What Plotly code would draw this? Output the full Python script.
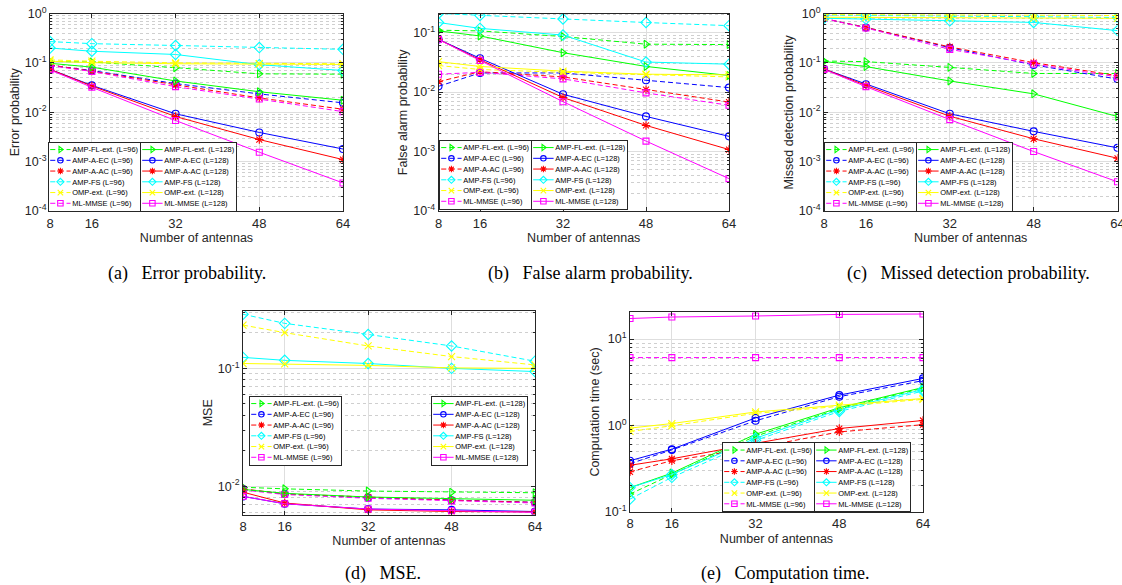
import json
import plotly.graph_objects as go

W, H = 1122, 585

# ---------------- data ----------------
ANTENNAS = [8, 16, 32, 48, 64]
X_TICKS = [8, 16, 32, 48, 64]

METHODS = ["AMP-FL-ext.", "AMP-A-EC", "AMP-A-AC", "AMP-FS", "OMP-ext.", "ML-MMSE"]
L_VALUES = [96, 128]

# (a) Error probability
ERR_FL_96 = [0.107, 0.104, 0.080, 0.060, 0.059]
ERR_EC_96 = [0.089, 0.070, 0.038, 0.0235, 0.0155]
ERR_AC_96 = [0.091, 0.068, 0.036, 0.0195, 0.0115]
ERR_FS_96 = [0.27, 0.245, 0.225, 0.204, 0.188]
ERR_OMP_96 = [0.115, 0.108, 0.100, 0.097, 0.096]
ERR_ML_96 = [0.088, 0.067, 0.033, 0.0185, 0.0103]
ERR_FL_128 = [0.098, 0.082, 0.043, 0.026, 0.0175]
ERR_EC_128 = [0.074, 0.035, 0.0093, 0.0039, 0.0018]
ERR_AC_128 = [0.074, 0.034, 0.0082, 0.0028, 0.0011]
ERR_FS_128 = [0.20, 0.172, 0.148, 0.092, 0.070]
ERR_OMP_128 = [0.108, 0.101, 0.096, 0.094, 0.093]
ERR_ML_128 = [0.072, 0.032, 0.0068, 0.00155, 0.00037]

# (b) False alarm probability
FA_FL_96 = [0.110, 0.107, 0.086, 0.064, 0.063]
FA_EC_96 = [0.0125, 0.021, 0.021, 0.0158, 0.0119]
FA_AC_96 = [0.015, 0.022, 0.018, 0.011, 0.0068]
FA_FS_96 = [0.21, 0.194, 0.170, 0.148, 0.131]
FA_OMP_96 = [0.028, 0.024, 0.0215, 0.0195, 0.018]
FA_ML_96 = [0.020, 0.0215, 0.0167, 0.0097, 0.0060]
FA_FL_128 = [0.107, 0.088, 0.046, 0.027, 0.019]
FA_EC_128 = [0.077, 0.037, 0.0092, 0.0039, 0.0018]
FA_AC_128 = [0.077, 0.035, 0.0081, 0.00275, 0.00108]
FA_FS_128 = [0.148, 0.118, 0.091, 0.032, 0.0295]
FA_OMP_128 = [0.0325, 0.027, 0.0225, 0.0200, 0.0195]
FA_ML_128 = [0.077, 0.034, 0.0069, 0.0015, 0.00035]

# (c) Missed detection probability
MD_FL_96 = [0.109, 0.106, 0.081, 0.061, 0.061]
MD_EC_96 = [0.79, 0.52, 0.203, 0.091, 0.047]
MD_AC_96 = [0.79, 0.52, 0.21, 0.101, 0.055]
MD_FS_96 = [0.93, 0.91, 0.88, 0.86, 0.83]
MD_OMP_96 = [0.95, 0.94, 0.93, 0.92, 0.91]
MD_ML_96 = [0.79, 0.51, 0.188, 0.095, 0.052]
MD_FL_128 = [0.107, 0.084, 0.043, 0.0236, 0.0082]
MD_EC_128 = [0.075, 0.037, 0.0093, 0.0041, 0.0019]
MD_AC_128 = [0.075, 0.035, 0.0083, 0.0029, 0.00117]
MD_FS_128 = [0.80, 0.77, 0.71, 0.66, 0.45]
MD_OMP_128 = [0.84, 0.83, 0.82, 0.81, 0.80]
MD_ML_128 = [0.074, 0.033, 0.0071, 0.0016, 0.00039]

# (d) MSE
MSE_FL_96 = [0.0098, 0.0095, 0.0091, 0.0089, 0.0088]
MSE_EC_96 = [0.0094, 0.0086, 0.0080, 0.0076, 0.0073]
MSE_AC_96 = [0.0095, 0.0086, 0.0081, 0.0076, 0.0073]
MSE_FS_96 = [0.288, 0.241, 0.194, 0.155, 0.115]
MSE_OMP_96 = [0.233, 0.201, 0.155, 0.126, 0.107]
MSE_ML_96 = [0.0093, 0.0085, 0.0079, 0.0075, 0.0072]
MSE_FL_128 = [0.0094, 0.0087, 0.0081, 0.0078, 0.0076]
MSE_EC_128 = [0.0082, 0.0071, 0.0064, 0.0063, 0.0061]
MSE_AC_128 = [0.0089, 0.0072, 0.0063, 0.0061, 0.00605]
MSE_FS_128 = [0.124, 0.117, 0.110, 0.100, 0.094]
MSE_OMP_128 = [0.110, 0.109, 0.106, 0.101, 0.100]
MSE_ML_128 = [0.0082, 0.0071, 0.0064, 0.0062, 0.0060]

# (e) Computation time (sec)
CT_FL_96 = [0.16, 0.27, 0.75, 1.55, 2.7]
CT_EC_96 = [0.36, 0.52, 1.13, 2.15, 3.3]
CT_AC_96 = [0.29, 0.39, 0.55, 0.84, 1.02]
CT_FS_96 = [0.14, 0.25, 0.67, 1.45, 2.5]
CT_OMP_96 = [0.85, 0.99, 1.38, 1.65, 2.0]
CT_ML_96 = [6.1, 6.1, 6.1, 6.1, 6.1]
CT_FL_128 = [0.19, 0.28, 0.79, 1.6, 2.75]
CT_EC_128 = [0.39, 0.53, 1.22, 2.24, 3.5]
CT_AC_128 = [0.345, 0.41, 0.62, 0.92, 1.14]
CT_FS_128 = [0.19, 0.27, 0.71, 1.52, 2.6]
CT_OMP_128 = [0.93, 1.05, 1.43, 1.72, 2.05]
CT_ML_128 = [17.3, 18.0, 18.5, 19.3, 19.5]

# ---------------- styles / layout ----------------
COLORS = ["#00ff00", "#0000ff", "#ff0000", "#00ffff", "#ffff00", "#ff00ff"]
SYMBOLS = ["triangle-right-open", "circle-open", "asterisk-open",
           "diamond-open", "x-thin-open", "square-open"]
MSIZES = [7, 7, 7, 8, 7, 6]
AXC = "#262626"
SANS = "Liberation Sans"
SERIF = "Liberation Serif"
LEG_FONT = 22
LEG_SCALE = 0.34

PANELS = [
    dict(caption="(a)\u2002 Error probability.", ytitle="Error probability",
         d96=[ERR_FL_96, ERR_EC_96, ERR_AC_96, ERR_FS_96, ERR_OMP_96, ERR_ML_96],
         d128=[ERR_FL_128, ERR_EC_128, ERR_AC_128, ERR_FS_128, ERR_OMP_128, ERR_ML_128],
         yrange=[-4, 0], decades=[-4, -3, -2, -1, 0],
         box=(50, 13.5, 343, 211), leg96=(48, 142), leg128=(148, 142), attach=True,
         cap=(187, 273)),
    dict(caption="(b)\u2002 False alarm probability.", ytitle="False alarm probability",
         d96=[FA_FL_96, FA_EC_96, FA_AC_96, FA_FS_96, FA_OMP_96, FA_ML_96],
         d128=[FA_FL_128, FA_EC_128, FA_AC_128, FA_FS_128, FA_OMP_128, FA_ML_128],
         yrange=[-4, -0.678], decades=[-4, -3, -2, -1],
         box=(438.5, 13.5, 729, 211), leg96=(439, 140), leg128=(538, 140), attach=True,
         cap=(590, 273)),
    dict(caption="(c)\u2002 Missed detection probability.", ytitle="Missed detection probability",
         d96=[MD_FL_96, MD_EC_96, MD_AC_96, MD_FS_96, MD_OMP_96, MD_ML_96],
         d128=[MD_FL_128, MD_EC_128, MD_AC_128, MD_FS_128, MD_OMP_128, MD_ML_128],
         yrange=[-4, 0], decades=[-4, -3, -2, -1, 0],
         box=(824, 13.5, 1117.5, 211), leg96=(824, 142), leg128=(924, 142), attach=True,
         cap=(968, 273)),
    dict(caption="(d)\u2002 MSE.", ytitle="MSE",
         d96=[MSE_FL_96, MSE_EC_96, MSE_AC_96, MSE_FS_96, MSE_OMP_96, MSE_ML_96],
         d128=[MSE_FL_128, MSE_EC_128, MSE_AC_128, MSE_FS_128, MSE_OMP_128, MSE_ML_128],
         yrange=[-2.24, -0.513], decades=[-2, -1],
         box=(243, 311, 535, 514.5), leg96=(249, 396), leg128=(431, 396), attach=False,
         cap=(383, 573)),
    dict(caption="(e)\u2002 Computation time.", ytitle="Computation time (sec)",
         d96=[CT_FL_96, CT_EC_96, CT_AC_96, CT_FS_96, CT_OMP_96, CT_ML_96],
         d128=[CT_FL_128, CT_EC_128, CT_AC_128, CT_FS_128, CT_OMP_128, CT_ML_128],
         yrange=[-1, 1.31], decades=[-1, 0, 1],
         box=(630, 312.3, 923, 511.7), leg96=(722, 442.5), leg128=(821, 442.5), attach=True,
         cap=(785, 573)),
]

fig = go.Figure()
layout = dict(
    width=W, height=H, autosize=False,
    margin=dict(l=0, r=0, t=0, b=0),
    paper_bgcolor="white", plot_bgcolor="white",
    font=dict(family=SANS, color=AXC),
    showlegend=True,
    annotations=[],
)
legend_pos = {}
leg_counter = 0

for i, p in enumerate(PANELS):
    sfx = "" if i == 0 else str(i + 1)
    xa, ya = "x" + sfx, "y" + sfx
    x0, y0, x1, y1 = p["box"]
    minor_vals = [d * 10.0 ** e for e in range(min(p["decades"]) - 1, max(p["decades"]) + 1)
                  for d in range(2, 10)]
    layout["xaxis" + sfx] = dict(
        domain=[x0 / W, x1 / W], anchor=ya, range=[8, 64],
        tickmode="array", tickvals=X_TICKS, ticktext=[str(v) for v in X_TICKS],
        ticks="inside", ticklen=4, tickcolor=AXC, mirror="ticks",
        showline=True, linecolor=AXC, linewidth=1,
        showgrid=True, gridcolor="#dedede", gridwidth=1, zeroline=False,
        tickfont=dict(family=SANS, size=13, color=AXC), ticklabeloverflow="allow",
        title=dict(text="Number of antennas", font=dict(family=SANS, size=12.5, color=AXC),
                   standoff=3),
        automargin=False,
    )
    layout["yaxis" + sfx] = dict(
        domain=[1 - y1 / H, 1 - y0 / H], anchor=xa, type="log", range=p["yrange"],
        tickmode="array", tickvals=[10.0 ** e for e in p["decades"]],
        ticktext=["10<sup>%d</sup>" % e for e in p["decades"]],
        ticks="inside", ticklen=4, tickcolor=AXC, mirror="ticks",
        showline=True, linecolor=AXC, linewidth=1,
        showgrid=True, gridcolor="#dedede", gridwidth=1, zeroline=False,
        minor=dict(tickmode="array", tickvals=minor_vals, ticks="inside", ticklen=2,
                   tickcolor=AXC, showgrid=True, gridcolor="#cfcfcf", griddash="dot",
                   gridwidth=1),
        tickfont=dict(family=SANS, size=12.5, color=AXC),
        title=dict(text=p["ytitle"], font=dict(family=SANS, size=12.5, color=AXC),
                   standoff=2),
        automargin=False,
    )
    left_id = None
    for L, data, lpos in ((96, p["d96"], p["leg96"]), (128, p["d128"], p["leg128"])):
        leg_counter += 1
        lid = "legend" if leg_counter == 1 else "legend%d" % leg_counter
        dash = "5px,3px" if L == 96 else "solid"
        ldash = "15px,9px" if L == 96 else "solid"
        for j, name in enumerate(METHODS):
            fig.add_trace(go.Scatter(
                x=ANTENNAS, y=data[j], mode="lines+markers", xaxis=xa, yaxis=ya,
                showlegend=False, name="%s (L=%d)" % (name, L), hoverinfo="x+y+name",
                line=dict(color=COLORS[j], width=1, dash=dash),
                marker=dict(symbol=SYMBOLS[j], size=MSIZES[j], color=COLORS[j],
                            line=dict(color=COLORS[j], width=1.1)),
            ))
        for j, name in enumerate(METHODS):
            # legend-only entries (styled for the scaled-down legend box)
            fig.add_trace(go.Scatter(
                x=[None], y=[None], mode="lines+markers", xaxis=xa, yaxis=ya,
                legend=lid, showlegend=True, name="%s (L=%d)" % (name, L),
                line=dict(color=COLORS[j], width=1 / LEG_SCALE, dash=ldash),
                marker=dict(symbol=SYMBOLS[j], size=16, color=COLORS[j],
                            line=dict(color=COLORS[j], width=1.1 / LEG_SCALE)),
            ))
        # initial position keeps the unscaled legend inside the page; the script
        # below scales it down and moves it to its final spot
        layout[lid] = dict(
            x=0, y=1, xanchor="left", yanchor="top", xref="paper", yref="paper",
            bgcolor="white", bordercolor=AXC, borderwidth=1 / LEG_SCALE,
            font=dict(family=SANS, size=LEG_FONT, color="#000000"),
            itemwidth=60, tracegroupgap=0, itemclick=False, itemdoubleclick=False,
        )
        attach_to = left_id if (L == 128 and p["attach"]) else None
        legend_pos[lid] = [lpos[0], lpos[1], LEG_SCALE, attach_to]
        left_id = lid
    layout["annotations"].append(dict(
        text=p["caption"], xref="paper", yref="paper",
        x=p["cap"][0] / W, y=1 - p["cap"][1] / H, xanchor="center", yanchor="middle",
        showarrow=False, font=dict(family=SERIF, size=18, color="#000000"),
    ))

fig.update_layout(**layout)

post_js = """
document.documentElement.style.margin = '0';
document.body.style.margin = '0';
document.body.style.padding = '0';
var gd = document.getElementById('{plot_id}');
var P = %s;
function place(k, X, Y, s){
  var g = gd.querySelector('g.infolayer > g.' + k);
  if(!g) return null;
  var svg = gd.querySelector('svg.main-svg').getBoundingClientRect();
  g.setAttribute('transform', 'translate(' + X + ',' + Y + ') scale(' + s + ')');
  var bg = g.querySelector('rect.bg');
  if(bg){
    var r = bg.getBoundingClientRect();
    var dx = X - (r.left - svg.left), dy = Y - (r.top - svg.top);
    g.setAttribute('transform', 'translate(' + (X + dx) + ',' + (Y + dy) + ') scale(' + s + ')');
    r = bg.getBoundingClientRect();
    return {right: r.right - svg.left, top: r.top - svg.top};
  }
  return null;
}
function fixLegends(){
  var placed = {};
  Object.keys(P).forEach(function(k){
    var X = P[k][0], Y = P[k][1], s = P[k][2], at = P[k][3];
    if(at && placed[at]) { X = placed[at].right - 0.5; }
    placed[k] = place(k, X, Y, s);
  });
}
fixLegends();
gd.on('plotly_afterplot', fixLegends);
""" % json.dumps(legend_pos)

fig.write_html("out.html", post_script=post_js, config={"displayModeBar": False})
